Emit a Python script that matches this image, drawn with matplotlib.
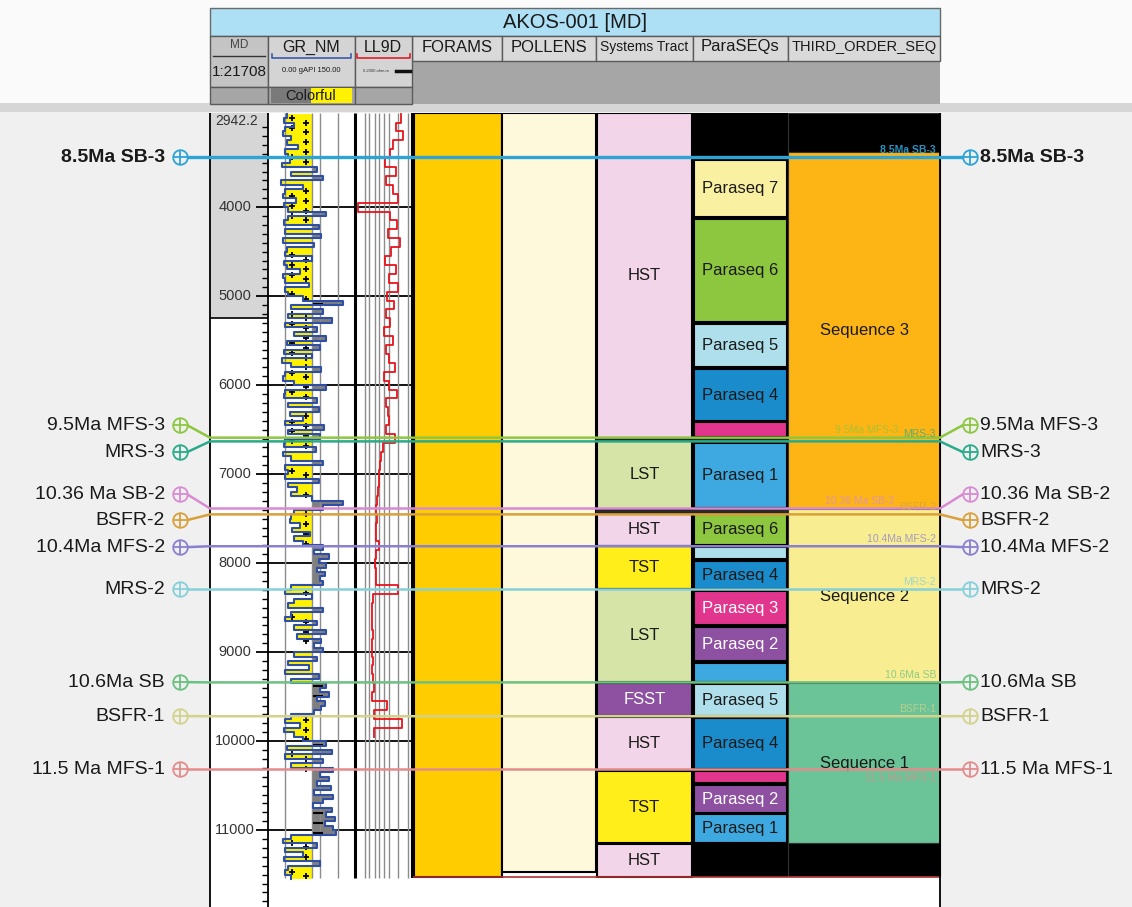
import numpy as np
import matplotlib.pyplot as plt
from matplotlib.patches import Rectangle

plt.rcParams['font.family'] = ['Liberation Sans', 'DejaVu Sans']
NARROW = ['Liberation Sans Narrow', 'Liberation Sans']

W, H = 1132, 907
Y_TOP = 113            # first logged pixel row
D_TOP = 2942.2         # depth at top of display (ft)
FT_PX = 0.089          # pixels per foot at 1:21708
D_BOT = D_TOP + (H - Y_TOP) / FT_PX
D_END = 11530          # total depth

# track layout (pixels)
col_edges = [210, 268, 355, 412, 502, 596, 693, 788, 940]
col_names = ['MD', 'GR_NM', 'LL9D', 'FORAMS', 'POLLENS', 'Systems Tract',
             'ParaSEQs', 'THIRD_ORDER_SEQ']
col_font = [8.5, 11.5, 11.5, 12, 12, 10, 12, 10.5]

# gamma ray, 50 ft samples from 2950 ft
gr_top, gr_step = 2950, 50
gr_values = [32, 28, 45, 30, 26, 40, 33, 52, 30, 35,
             38, 24, 85, 40, 95, 22, 60, 30, 25, 48,
             28, 35, 100, 35, 28, 88, 30, 92, 26, 80,
             33, 30, 75, 28, 32, 55, 26, 30, 70, 29,
             34, 60, 130, 40, 95, 35, 110, 30, 85, 45,
             100, 32, 90, 28, 75, 24, 40, 92, 30, 26,
             45, 100, 30, 28, 85, 35, 88, 38, 60, 30,
             96, 34, 90, 30, 28, 82, 26, 40, 95, 30,
             35, 30, 88, 34, 50, 40, 75, 130, 95, 45,
             40, 38, 55, 42, 72, 45, 60, 95, 80, 105,
             88, 100, 85, 98, 90, 95, 40, 30, 75, 45,
             35, 95, 40, 30, 85, 45, 100, 50, 92, 80,
             95, 45, 85, 35, 70, 30, 88, 40, 100, 90,
             105, 85, 98, 92, 80, 40, 30, 55, 28, 45,
             60, 100, 32, 110, 30, 95, 40, 112, 90, 105,
             85, 108, 80, 112, 95, 78, 110, 100, 115, 98,
             112, 118, 40, 25, 85, 30, 60, 28, 90, 35,
             30, 40]
GR_CUT = 75

# deep laterolog, 100 ft samples from 2950 ft
ll_top, ll_step = 2950, 100
ll_values = [320, 140, 450, 100, 55, 25, 150, 30, 90, 200,
             0.35, 60, 180, 40, 300, 70, 25, 150, 45, 220,
             35, 110, 30, 60, 20, 90, 28, 50, 120, 22,
             45, 180, 30, 40, 50, 28, 130, 18, 14, 12,
             10, 9, 8, 7, 6, 7, 6, 5.5, 9, 6,
             5, 5.5, 6, 220, 3.5, 3.2, 3, 3.2, 3.5, 3,
             3.3, 3.6, 3.2, 3.4, 4.5, 3.3, 35, 4, 400, 4]

forams_interval = (D_TOP, 11530)
pollens_interval = (D_TOP, 11475)

st_names = ['HST', 'LST', 'HST', 'TST', 'LST', 'FSST', 'HST', 'TST', 'HST']
st_tops = [D_TOP, 6630, 7450, 7812, 8296, 9345, 9725, 10340, 11158]
st_bases = [6590, 7388, 7805, 8288, 9340, 9720, 10320, 11150, 11530]
st_colors = ['#F3D5E9', '#D6E4A7', '#F3D5E9', '#FFEE1A', '#D6E4A7',
             '#8E50A0', '#F3D5E9', '#FFEE1A', '#F3D5E9']

ps_names = ['', 'Paraseq 7', 'Paraseq 6', 'Paraseq 5', 'Paraseq 4', '',
            'Paraseq 1', 'Paraseq 6', '', 'Paraseq 4', 'Paraseq 3',
            'Paraseq 2', '', 'Paraseq 5', 'Paraseq 4', '', 'Paraseq 2',
            'Paraseq 1', '']
ps_tops = [D_TOP, 3472, 4135, 5315, 5820, 6416, 6652, 7449, 7820, 7978,
           8315, 8719, 9124, 9360, 9742, 10337, 10494, 10820, 11146]
ps_bases = [3438, 4112, 5292, 5798, 6404, 6584, 7382, 7798, 7955, 8292,
            8697, 9101, 9337, 9719, 10315, 10472, 10809, 11146, 11517]
ps_colors = ['#000000', '#FAF0A2', '#8DC63F', '#AEDFEA', '#1A8CCB',
             '#E2368E', '#3DA9E0', '#8DC63F', '#AEDFEA', '#1A8CCB',
             '#E2368E', '#8E50A0', '#3DA9E0', '#AEDFEA', '#1A8CCB',
             '#E2368E', '#8E50A0', '#3DA9E0', '#000000']

seq_names = ['', 'Sequence 3', 'Sequence 2', 'Sequence 1', '']
seq_tops = [D_TOP, 3382, 7393, 9348, 11146]
seq_bases = [3382, 7393, 9348, 11146, 11517]
seq_colors = ['#000000', '#FDB515', '#F9ED91', '#6BC497', '#000000']

hz_names = ['8.5Ma SB-3', '9.5Ma MFS-3', 'MRS-3', '10.36 Ma SB-2', 'BSFR-2',
            '10.4Ma MFS-2', 'MRS-2', '10.6Ma SB', 'BSFR-1', '11.5 Ma MFS-1']
hz_depths = [3438, 6590, 6632, 7386, 7452, 7810, 8292, 9340, 9720, 10315]
hz_colors = ['#2EA3D6', '#8DC63F', '#2BAA8A', '#D88BD2', '#D9A03A',
             '#8A80D0', '#86D0DA', '#6CC080', '#D2D28C', '#E38C8C']
# where the pick labels sit in the margins
label_depths = [3438, 6449, 6753, 7225, 7517, 7820, 8292, 9337, 9719, 10315]
# in-track pick labels: right edge (px) and offset from the pick (ft)
inner_right = [936, 898, 936, 894, 936, 936, 936, 936, 936, 936]
inner_shift = [-25, -25, -25, -25, -25, -25, -25, -25, -25, 45]

fig = plt.figure(figsize=(W / 100, H / 100), dpi=100, facecolor='#F0F0F0')

# ---- header (pixel coordinates) ----
hd = fig.add_axes([0, 0, 1, 1], zorder=0)
hd.set_xlim(0, W)
hd.set_ylim(H, 0)
hd.set_axis_off()
hd.add_patch(Rectangle((0, 0), W, 103, fc='#FAFAFA', ec='none'))
hd.add_patch(Rectangle((0, 103), W, 9, fc='#D6D6D6', ec='none'))

hd.add_patch(Rectangle((210, 8), 730, 28, fc='#ADDFF5', ec='#6A6A6A', lw=1))
hd.text(575, 22, 'AKOS-001 [MD]', fontsize=14.5, family=NARROW,
        ha='center', va='center', color='#1A1A1A')

hd.add_patch(Rectangle((412, 61), 528, 43, fc='#A6A6A6', ec='none'))
for i, name in enumerate(col_names):
    x0, x1 = col_edges[i], col_edges[i + 1]
    xc = (x0 + x1) / 2
    if i >= 3:
        hd.add_patch(Rectangle((x0, 36), x1 - x0, 25, fc='#D9D9D9',
                               ec='#5A5A5A', lw=1))
        hd.text(xc, 47, name, fontsize=col_font[i], family=NARROW,
                ha='center', va='center', color='#1A1A1A')

# MD header
hd.add_patch(Rectangle((210, 36), 58, 51, fc='#C4C4C4', ec='#5A5A5A', lw=1))
hd.add_patch(Rectangle((210, 87), 58, 17, fc='#A6A6A6', ec='#5A5A5A', lw=1))
hd.text(239, 45, col_names[0], fontsize=col_font[0], family=NARROW,
        ha='center', va='center', color='#444444')
hd.plot([213, 265], [56, 56], color='#333333', lw=1)
hd.text(239, 72, '1:21708', fontsize=11, family=NARROW, ha='center',
        va='center', color='#1A1A1A')

# GR_NM header
hd.add_patch(Rectangle((268, 36), 87, 51, fc='#D4D4D4', ec='#5A5A5A', lw=1))
hd.add_patch(Rectangle((268, 87), 87, 17, fc='#A6A6A6', ec='#5A5A5A', lw=1))
hd.text(311, 47, col_names[1], fontsize=col_font[1], family=NARROW,
        ha='center', va='center', color='#1A1A1A')
hd.plot([272, 272, 351, 351], [54, 58, 58, 54], color='#3B5BA9', lw=1.2)
hd.text(311, 71, '0.00 gAPI 150.00', fontsize=5.5, ha='center', va='center',
        color='#1A1A1A')
hd.add_patch(Rectangle((271, 88), 40, 15, fc='#7A7A7A', ec='none'))
hd.add_patch(Rectangle((311, 88), 41, 15, fc='#FFF200', ec='none'))
hd.text(311, 96, 'Colorful', fontsize=10.5, family=NARROW, ha='center',
        va='center', color='#1A1A1A')

# LL9D header
hd.add_patch(Rectangle((355, 36), 57, 51, fc='#D4D4D4', ec='#5A5A5A', lw=1))
hd.add_patch(Rectangle((355, 87), 57, 17, fc='#A6A6A6', ec='#5A5A5A', lw=1))
hd.text(383, 47, col_names[2], fontsize=col_font[2], family=NARROW,
        ha='center', va='center', color='#1A1A1A')
hd.plot([357, 357, 410, 410], [54, 58, 58, 54], color='#E0202A', lw=1.2)
hd.text(376, 71, '0.2000 ohm.m', fontsize=3, ha='center', va='center',
        color='#333333')
hd.plot([396, 410], [71, 71], color='#111111', lw=2.5)

# ---- depth panels ----
body = [0, 0, 1, (H - Y_TOP) / H]


def depth_axes(rect, z):
    a = fig.add_axes(rect, zorder=z)
    a.set_ylim(D_BOT, D_TOP)
    a.set_axis_off()
    a.patch.set_visible(False)
    return a


ax = depth_axes(body, 1)
ax.set_xlim(0, W)

ax.add_patch(Rectangle((210, D_TOP), 730, D_BOT - D_TOP, fc='white', ec='none'))
ax.add_patch(Rectangle((210, D_TOP), 58, 5250 - D_TOP, fc='#D6D6D6', ec='none'))
ax.hlines(5250, 210, 268, color='black', lw=1.2)

# depth ruler
md_minor = [d for d in range(3000, 11900, 100) if d % 1000]
md_major = list(range(4000, 11001, 1000))
ax.hlines(md_minor, 262, 268, color='black', lw=1)
ax.hlines(md_major, 256, 412, color='black', lw=1.3)
for d in md_major:
    ax.text(235, d, str(d), fontsize=10.5, ha='center', va='center',
            color='#333333')
ax.text(237, D_TOP + 95, f'{D_TOP:.1f}', fontsize=10, ha='center',
        va='center', color='#333333')

# biostrat columns
ax.add_patch(Rectangle((414, forams_interval[0]), 88,
                       forams_interval[1] - forams_interval[0],
                       fc='#FFCC00', ec='black', lw=1.5))
ax.add_patch(Rectangle((502, pollens_interval[0]), 94,
                       pollens_interval[1] - pollens_interval[0],
                       fc='#FFF9DC', ec='black', lw=1.5))

# systems tracts and parasequences
ax.add_patch(Rectangle((596, D_TOP), 192, D_END - D_TOP, fc='#2A2A2A', ec='none'))
for name, top, base, c in zip(st_names, st_tops, st_bases, st_colors):
    ax.add_patch(Rectangle((597, top), 95, base - top, fc=c, ec='black', lw=1.5))
    tc = 'white' if c == '#8E50A0' else '#1A1A1A'
    ax.text(644.5, (top + base) / 2, name, fontsize=12, ha='center',
            va='center', color=tc)

for name, top, base, c in zip(ps_names, ps_tops, ps_bases, ps_colors):
    ax.add_patch(Rectangle((694, top), 93, base - top, fc=c, ec='black', lw=1.5))
    tc = 'white' if c in ('#E2368E', '#8E50A0') else '#1A1A1A'
    if name:
        ax.text(740.5, (top + base) / 2, name, fontsize=12, ha='center',
                va='center', color=tc)

for name, top, base, c in zip(seq_names, seq_tops, seq_bases, seq_colors):
    ax.add_patch(Rectangle((788, top), 152, base - top, fc=c, ec='#333333', lw=0.8))
    if name:
        ax.text(865, (top + base) / 2, name, fontsize=12, ha='center',
                va='center', color='#1A1A1A')

ax.hlines(D_END, 412, 940, color='#B03030', lw=1.2)

# track borders
ax.vlines([210, 268, 940], D_TOP, D_BOT, color='black', lw=1.3)
ax.vlines(355, D_TOP, 11540, color='black', lw=2.2)
ax.vlines(412, D_TOP, 11540, color='black', lw=1.5)

# ---- GR track ----
ax_gr = depth_axes([268 / W, 0, 87 / W, (H - Y_TOP) / H], 2)
ax_gr.set_xlim(0, 150)
ax_gr.vlines([30, GR_CUT, 90, 120], D_TOP, 11540, color='#8C8C8C', lw=1)

gr_edges = gr_top + gr_step * np.arange(len(gr_values) + 1)
gr_y = np.repeat(gr_edges, 2)[1:-1]
gr_x = np.repeat(np.array(gr_values, dtype=float), 2)
ax_gr.fill_betweenx(gr_y, gr_x, GR_CUT, where=gr_x <= GR_CUT,
                    color='#FFF200', lw=0)
ax_gr.fill_betweenx(gr_y, gr_x, GR_CUT, where=gr_x >= GR_CUT,
                    color='#7F7F7F', lw=0)

# lithology symbols inside the fills
sym_d = np.arange(3000, 11500, 110)
idx = ((sym_d - gr_top) // gr_step).astype(int)
sym_v = np.array(gr_values)[idx]
ax_gr.plot(np.full((sym_v < 38).sum(), 42.0), sym_d[sym_v < 38], '+',
           color='black', ms=5, mew=1.3)
ax_gr.plot(np.full((sym_v < 62).sum(), 66.0), sym_d[sym_v < 62] + 50, '+',
           color='black', ms=5, mew=1.3)
ax_gr.plot(np.full((sym_v > 95).sum(), 86.0), sym_d[sym_v > 95], '_',
           color='black', ms=7, mew=1.5)

ax_gr.plot(gr_x, gr_y, color='#2F4FA5', lw=1.5)

# ---- LL9D track ----
ax_ll = depth_axes([355 / W, 0, 57 / W, (H - Y_TOP) / H], 2)
ax_ll.set_xscale('log')
ax_ll.set_xlim(0.2, 2000)
ax_ll.vlines([1, 2, 5, 10, 20, 50, 200, 1000], D_TOP, 11540,
             color='#8C8C8C', lw=1)
ll_edges = ll_top + ll_step * np.arange(len(ll_values) + 1)
ll_y = np.repeat(ll_edges, 2)[1:-1]
ll_x = np.repeat(np.array(ll_values, dtype=float), 2)
ax_ll.plot(ll_x, ll_y, color='#E8141C', lw=1.3)

# ---- well picks ----
ax_top = depth_axes(body, 3)
ax_top.set_xlim(0, W)
for i, (name, d, c, ld) in enumerate(zip(hz_names, hz_depths, hz_colors,
                                          label_depths)):
    lw = 2.4 if i == 0 else 1.8
    ax_top.plot([187, 210, 940, 963], [ld, d, d, ld], color=c, lw=lw,
                solid_capstyle='butt', zorder=2)
    for xm in (180, 970):
        ax_top.plot(xm, ld, 'o', ms=10.5, mfc='none', mec=c, mew=1.3, zorder=3)
        ax_top.plot(xm, ld, '+', ms=10.5, mec=c, mew=1.3, zorder=3)
    weight = 'bold' if i == 0 else 'normal'
    ax_top.text(165, ld, name, fontsize=14, ha='right', va='center',
                color='#1A1A1A', fontweight=weight)
    ax_top.text(980, ld, name, fontsize=14, ha='left', va='center',
                color='#1A1A1A', fontweight=weight)
    shift = inner_shift[i]
    ax_top.text(inner_right[i], d + shift, name, fontsize=7.5, ha='right',
                va='bottom' if shift < 0 else 'top', color=c,
                fontweight=weight, alpha=0.9 if i == 0 else 0.75)

fig.savefig('out.png', dpi=100, facecolor=fig.get_facecolor())
